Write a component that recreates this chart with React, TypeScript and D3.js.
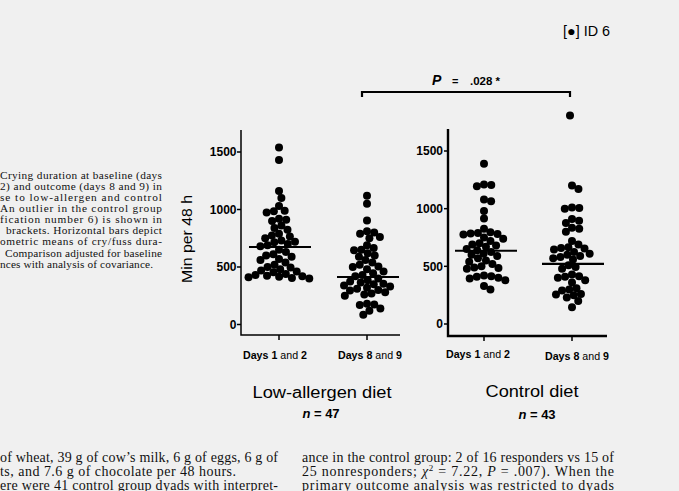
import React from "react";
import * as d3 from "d3";

const categories = ["Days 1 and 2", "Days 8 and 9"];
const yTicks = [0, 500, 1000, 1500];

const lowDays12 = [1540, 1430, 1160, 1100, 1030, 990, 985, 975, 920, 910, 900, 860, 840, 825, 790, 775, 765, 750, 730, 720, 715, 700, 690, 680, 650, 630, 610, 600, 590, 570, 560, 540, 520, 500, 495, 480, 470, 460, 455, 440, 430, 425, 420, 415, 410, 405, 400];
const lowDays89 = [1120, 1050, 905, 810, 800, 790, 760, 750, 690, 665, 650, 645, 620, 600, 590, 560, 540, 520, 505, 500, 480, 460, 445, 430, 420, 400, 385, 375, 365, 355, 350, 340, 330, 320, 310, 300, 295, 280, 270, 260, 250, 180, 175, 170, 140, 120, 85];
const ctlDays12 = [1390, 1210, 1205, 1195, 1080, 1065, 980, 915, 825, 795, 790, 785, 780, 775, 750, 740, 720, 700, 690, 680, 670, 650, 640, 625, 610, 600, 590, 570, 550, 540, 520, 500, 490, 485, 480, 420, 415, 410, 400, 395, 380, 330, 300];
const ctlDays89 = [1200, 1170, 1010, 1005, 1000, 910, 895, 875, 835, 825, 800, 720, 690, 665, 660, 655, 645, 625, 610, 600, 590, 580, 570, 560, 510, 495, 480, 430, 415, 410, 400, 380, 360, 310, 300, 290, 260, 255, 250, 230, 200, 145];
const ctlOutlier = [1808];
const lowMeans = [674, 413];
const ctlMeans = [635, 522];

const captionLines = [
  "Crying duration at baseline (days",
  "2) and outcome (days 8 and 9) in",
  "se to low-allergen and control",
  "An outlier in the control group",
  "fication number 6) is shown in",
  "brackets. Horizontal bars depict",
  "ometric means of cry/fuss dura-",
  "Comparison adjusted for baseline",
  "nces with analysis of covariance.",
];
const captionStarts = [0, 0, 0, 0, 0, 6, 0, 5, 0];

const R = 4;
const D = 7.3;

function swarm(values: number[], y: (v: number) => number, cx: number) {
  const placed: { x: number; y: number }[] = [];
  const pts = values.map((v) => ({ v, y: y(v) })).sort((a, b) => b.v - a.v);
  for (const p of pts) {
    const cands = [0];
    for (const q of placed) {
      const dy = Math.abs(q.y - p.y);
      if (dy < D) {
        const dx = Math.sqrt(D * D - dy * dy);
        cands.push(q.x + dx, q.x - dx);
      }
    }
    cands.sort((a, b) => Math.abs(a) - Math.abs(b));
    let chosen = 0;
    for (const c of cands) {
      let ok = true;
      for (const q of placed) {
        const dx = q.x - c, dy = q.y - p.y;
        if (dx * dx + dy * dy < D * D - 1e-6) { ok = false; break; }
      }
      if (ok) { chosen = c; break; }
    }
    placed.push({ x: chosen, y: p.y });
  }
  return placed.map((p) => ({ x: cx + p.x, y: p.y }));
}

const sans = "'Liberation Sans', Arial, sans-serif";
const serif = "'Liberation Serif', 'Times New Roman', serif";

function Panel({ x0, x1, top, bottom, y, xs, groups, means, axisW, tickLabelX, labelPos, meanCenters }: any) {
  return (
    <g>
      {groups.map((g: number[], gi: number) =>
        swarm(g, y, xs(categories[gi])).map((p, i) => (
          <circle key={gi + "-" + i} cx={p.x} cy={p.y} r={R} fill="#000" />
        ))
      )}
      {means.map((m: number, i: number) => (
        <line key={"m" + i} x1={meanCenters[i] - 31} x2={meanCenters[i] + 31} y1={y(m)} y2={y(m)} stroke="#000" strokeWidth={2.2} />
      ))}
      <path d={`M${x0},${top}V${bottom}H${x1}`} fill="none" stroke="#000" strokeWidth={axisW} />
      {yTicks.map((t) => (
        <g key={t}>
          <line x1={x0 - 4} x2={x0} y1={y(t)} y2={y(t)} stroke="#000" strokeWidth={1.5} />
          <text x={tickLabelX} y={y(t) + 4.3} textAnchor="end" fontFamily={sans} fontWeight="bold" fontSize={12}>{t}</text>
        </g>
      ))}
      {categories.map((c, i) => (
        <line key={c} x1={xs(c)} x2={xs(c)} y1={bottom} y2={bottom + 5} stroke="#000" strokeWidth={1.5} />
      ))}
      {labelPos.map((lp: any, i: number) => {
        const parts = categories[i].split(" ");
        return (
          <text key={"l" + i} x={lp[0]} y={lp[1]} textAnchor="middle" fontFamily={sans} fontSize={11.5} textLength={64} lengthAdjust="spacingAndGlyphs">
            <tspan fontWeight="bold">{parts[0]} {parts[1]}</tspan>
            <tspan> {parts[2]} </tspan>
            <tspan fontWeight="bold">{parts[3]}</tspan>
          </text>
        );
      })}
    </g>
  );
}

export default function App() {
  const yLeft = d3.scaleLinear().domain([0, 1500]).range([324.5, 152]);
  const yRight = d3.scaleLinear().domain([0, 1500]).range([324, 151]);
  const xLeft = d3.scalePoint<string>().domain(categories).range([279, 367]);
  const xRight = d3.scalePoint<string>().domain(categories).range([484, 572]);

  return (
    <svg width={679} height={491} style={{ position: "absolute", left: 0, top: 0, background: "#f0f0f0" }}>
      <rect x={0} y={0} width={679} height={491} fill="#f0f0f0" />
      {captionLines.map((l, i) => {
        const last = i === captionLines.length - 1;
        const x = captionStarts[i];
        return (
          <text key={i} x={x} y={178.5 + i * 11.15} fontFamily={serif} fontSize={11.3} fill="#111"
            textLength={last ? 153 - x : 162 - x} lengthAdjust="spacing">{l}</text>
        );
      })}
      <text transform="translate(192,239) rotate(-90)" textAnchor="middle" fontFamily={sans} fontSize={15} textLength={88} lengthAdjust="spacingAndGlyphs">Min per 48 h</text>

      <Panel x0={241} x1={400} top={130} bottom={335} y={yLeft} xs={xLeft}
        groups={[lowDays12, lowDays89]} means={lowMeans} axisW={1.5} tickLabelX={236.5}
        labelPos={[[275, 359], [370, 359]]} meanCenters={[280, 368]} />
      <Panel x0={448} x1={607} top={129} bottom={336} y={yRight} xs={xRight}
        groups={[ctlDays12, ctlDays89]} means={ctlMeans} axisW={2.4} tickLabelX={443}
        labelPos={[[478, 358], [577, 360]]} meanCenters={[486, 573]} />
      {ctlOutlier.map((v, i) => (
        <circle key={"o" + i} cx={xRight(categories[1])! - 2} cy={yRight(v)} r={R} fill="#000" />
      ))}

      <path d="M362,97V92H570V97" fill="none" stroke="#000" strokeWidth={2.2} />
      <text x={432} y={85} fontFamily={sans} fontWeight="bold" fontStyle="italic" fontSize={14}>P</text>
      <text x={452} y={85} fontFamily={sans} fontWeight="bold" fontSize={11}>=</text>
      <text x={470} y={85} fontFamily={sans} fontWeight="bold" fontSize={11} textLength={30} lengthAdjust="spacingAndGlyphs">.028 *</text>

      <text x={563} y={36} fontFamily={sans} fontSize={14} textLength={47} lengthAdjust="spacingAndGlyphs">[●] ID 6</text>

      <text x={322} y={398} textAnchor="middle" fontFamily={sans} fontSize={16} textLength={139} lengthAdjust="spacingAndGlyphs">Low-allergen diet</text>
      <text x={321} y={418} textAnchor="middle" fontFamily={sans} fontWeight="bold" fontSize={13}><tspan fontStyle="italic">n</tspan> = 47</text>
      <text x={532} y={397} textAnchor="middle" fontFamily={sans} fontSize={16} textLength={93} lengthAdjust="spacingAndGlyphs">Control diet</text>
      <text x={537} y={419} textAnchor="middle" fontFamily={sans} fontWeight="bold" fontSize={13}><tspan fontStyle="italic">n</tspan> = 43</text>

      <g fontFamily={serif} fontSize={14} fill="#111">
        <text x={0} y={461.5} textLength={278} lengthAdjust="spacing">of wheat, 39 g of cow’s milk, 6 g of eggs, 6 g of</text>
        <text x={0} y={476} textLength={236} lengthAdjust="spacing">ts, and 7.6 g of chocolate per 48 hours.</text>
        <text x={0} y={490} textLength={278} lengthAdjust="spacing">ere were 41 control group dyads with interpret-</text>
        <text x={302} y={461.5} textLength={312} lengthAdjust="spacing">ance in the control group: 2 of 16 responders vs 15 of</text>
        <text x={302} y={476} textLength={312} lengthAdjust="spacing">25 nonresponders; <tspan fontStyle="italic">χ</tspan><tspan fontSize={9} dy={-5}>2</tspan><tspan dy={5}> = 7.22, </tspan><tspan fontStyle="italic">P</tspan> = .007). When the</text>
        <text x={302} y={490} textLength={312} lengthAdjust="spacing">primary outcome analysis was restricted to dyads</text>
      </g>
    </svg>
  );
}
